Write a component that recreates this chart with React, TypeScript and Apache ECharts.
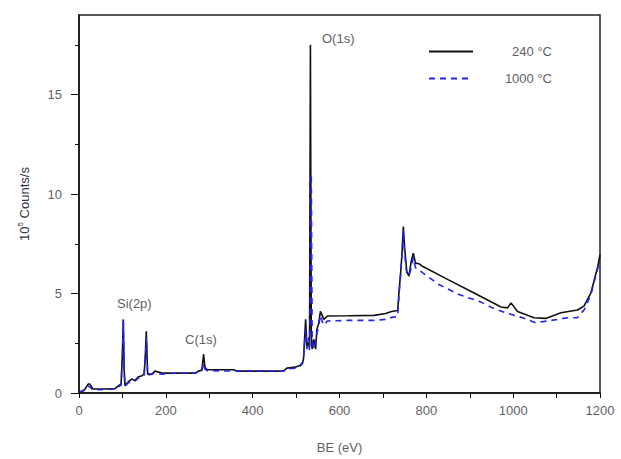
import React, { useEffect, useRef } from "react";
import * as echarts from "echarts";

const be240 = [0, 8, 14, 21, 25, 32, 60, 83, 90, 97, 100, 102, 104, 106, 113, 121, 129, 136, 145, 150, 153, 155, 158, 168, 175, 191, 221, 268, 275, 283, 287, 290, 295, 356, 364, 471, 479, 498, 510, 515, 517, 522, 525, 529, 531, 533, 535, 537, 541, 545, 548, 552, 556, 564, 572, 620, 680, 706, 720, 734, 737, 741, 744, 747, 750, 755, 760, 765, 770, 775, 783, 791, 850, 900, 950, 972, 987, 995, 1010, 1048, 1075, 1110, 1148, 1163, 1179, 1195, 1200];
const cps240 = [0.05, 0.1, 0.2, 0.45, 0.45, 0.2, 0.2, 0.22, 0.35, 0.45, 2.0, 3.7, 1.2, 0.37, 0.55, 0.7, 0.63, 0.8, 0.87, 0.95, 2.0, 3.1, 0.95, 0.95, 1.1, 1.0, 1.0, 1.0, 1.1, 1.15, 1.95, 1.3, 1.17, 1.17, 1.1, 1.1, 1.25, 1.3, 1.4, 1.55, 1.7, 3.7, 2.35, 2.55, 2.3, 17.5, 3.0, 2.2, 2.7, 2.2, 3.2, 3.5, 4.1, 3.7, 3.87, 3.88, 3.9, 4.0, 4.1, 4.15, 5.05, 6.1, 7.0, 8.37, 7.3, 6.1, 5.87, 6.6, 7.03, 6.53, 6.5, 6.37, 5.7, 5.14, 4.57, 4.32, 4.28, 4.53, 4.1, 3.78, 3.75, 4.03, 4.17, 4.37, 5.03, 6.37, 6.95];

const be1000 = [0, 8, 14, 21, 25, 32, 60, 83, 90, 97, 100, 102, 104, 106, 113, 121, 129, 136, 145, 150, 153, 155, 158, 168, 175, 191, 221, 268, 275, 283, 287, 290, 295, 356, 364, 471, 479, 498, 510, 515, 517, 522, 525, 529, 531, 535, 537, 541, 545, 548, 552, 556, 560, 564, 572, 620, 680, 706, 720, 734, 737, 741, 744, 747, 750, 755, 760, 765, 770, 775, 783, 791, 829, 875, 925, 952, 983, 1022, 1052, 1079, 1125, 1148, 1164, 1179, 1195, 1200];
const cps1000 = [0.05, 0.1, 0.15, 0.35, 0.3, 0.15, 0.18, 0.2, 0.3, 0.4, 1.8, 3.6, 1.0, 0.35, 0.5, 0.6, 0.6, 0.75, 0.8, 0.9, 1.8, 2.8, 0.9, 0.95, 1.0, 0.95, 1.0, 1.0, 1.05, 1.1, 1.5, 1.2, 1.12, 1.1, 1.12, 1.1, 1.2, 1.25, 1.35, 1.5, 1.7, 3.2, 2.2, 2.8, 2.1, 11.0, 2.6, 2.2, 2.6, 3.0, 3.4, 3.9, 3.6, 3.4, 3.62, 3.65, 3.65, 3.7, 3.8, 3.85, 4.9, 6.0, 7.0, 8.2, 7.0, 6.0, 5.9, 6.3, 6.8, 6.3, 6.2, 6.05, 5.45, 4.95, 4.58, 4.28, 4.03, 3.78, 3.53, 3.62, 3.78, 3.78, 4.2, 4.95, 6.28, 6.6];

const seriesNames = ["240 °C", "1000 °C"];
const yLabelValues = [0, 5, 10, 15];
const peakLabels = ["O(1s)", "Si(2p)", "C(1s)"];

const FONT = "'Liberation Sans', Arial, sans-serif";
const LABEL_COLOR = "#5f5f66";

export default function App() {
  const ref = useRef<HTMLDivElement>(null);
  useEffect(() => {
    document.body.style.margin = "0";
    if (!ref.current) return;
    const chart = echarts.init(ref.current, null, { renderer: "svg" });
    const zip = (xs: number[], ys: number[]) => xs.map((x, i) => [x, ys[i]]);
    chart.setOption({
      animation: false,
      backgroundColor: "#ffffff",
      textStyle: { fontFamily: FONT },
      grid: {
        left: 79,
        right: 21,
        top: 15,
        bottom: 64,
        show: true,
        borderColor: "#222",
        borderWidth: 1.5,
        backgroundColor: "transparent",
      },
      legend: {
        orient: "vertical",
        left: 423,
        top: 40,
        itemWidth: 44,
        itemHeight: 14,
        itemGap: 14,
        data: seriesNames,
        itemStyle: { opacity: 0 },
        formatter: (n: string) => "{a|" + n + "}",
        textStyle: {
          fontFamily: FONT,
          rich: { a: { width: 74, align: "right", fontSize: 13, color: LABEL_COLOR, fontFamily: FONT } },
        },
      },
      xAxis: {
        type: "value",
        min: 0,
        max: 1200,
        interval: 100,
        name: "BE (eV)",
        nameLocation: "middle",
        nameGap: 48,
        nameTextStyle: { fontSize: 13, color: LABEL_COLOR, fontFamily: FONT },
        axisLine: { onZero: false, lineStyle: { color: "#111", width: 1.5 } },
        axisTick: { length: 5, lineStyle: { color: "#111", width: 1 } },
        axisLabel: {
          margin: 11,
          fontSize: 13,
          color: LABEL_COLOR,
          fontFamily: FONT,
          formatter: (v: number) => (v % 200 === 0 ? String(v) : ""),
        },
        splitLine: { show: false },
      },
      yAxis: {
        type: "value",
        min: 0,
        max: 19,
        interval: 5,
        name: "10{sup|5} Counts/s",
        nameLocation: "middle",
        nameGap: 47,
        nameRotate: 90,
        nameTextStyle: {
          fontSize: 13,
          color: "#333344",
          fontFamily: FONT,
          rich: {
            sup: { fontSize: 8, color: "#333344", fontFamily: FONT, padding: [0, 0, 8, 0] },
          },
        },
        axisLine: { onZero: false, lineStyle: { color: "#111", width: 1.5 } },
        axisTick: { length: 8, customValues: yLabelValues, lineStyle: { color: "#111", width: 1 } },
        minorTick: { show: true, splitNumber: 2, length: 4, lineStyle: { color: "#111", width: 1 } },
        axisLabel: {
          margin: 17,
          fontSize: 13,
          color: LABEL_COLOR,
          fontFamily: FONT,
          customValues: yLabelValues,
          formatter: (v: number) => (v % 5 === 0 ? String(v) : ""),
        },
        splitLine: { show: false },
      },
      graphic: [
        { type: "text", left: 322, top: 32, style: { text: peakLabels[0], fontSize: 13, fill: LABEL_COLOR, fontFamily: FONT } },
        { type: "text", left: 117, top: 297, style: { text: peakLabels[1], fontSize: 13, fill: LABEL_COLOR, fontFamily: FONT } },
        { type: "text", left: 185, top: 333, style: { text: peakLabels[2], fontSize: 13, fill: LABEL_COLOR, fontFamily: FONT } },
      ],
      series: [
        {
          name: seriesNames[0],
          type: "line",
          data: zip(be240, cps240),
          symbol: "none",
          color: "#111111",
          lineStyle: { color: "#111111", width: 1.6, type: "solid" },
        },
        {
          name: seriesNames[1],
          type: "line",
          data: zip(be1000, cps1000),
          symbol: "none",
          color: "#2323f0",
          lineStyle: { color: "#2323f0", width: 1.6, type: [6, 5] },
        },
      ],
    });
    return () => chart.dispose();
  }, []);
  return <div ref={ref} style={{ width: 621, height: 459 }} />;
}
